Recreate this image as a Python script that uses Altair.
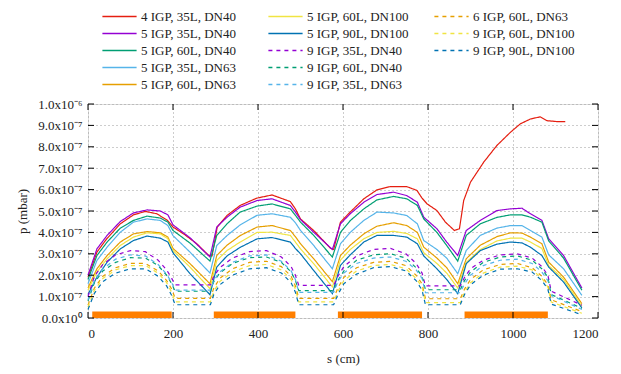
import altair as alt
import pandas as pd

FONT = "Liberation Serif"

# ---------------- data (pressure in units of 1e-7 mbar, s in cm) ----------------
S_RED = [0, 21, 44, 76, 107, 135, 162, 187, 200, 225, 256, 284, 292, 304, 327, 358, 397, 433, 476, 488,
         500, 531, 570, 578, 594, 617, 649, 680, 711, 750, 774, 786, 798, 821, 841, 862, 874, 884, 900, 931,
         962, 994, 1017, 1041, 1064, 1080, 1103, 1123]
P_RED = [1.9, 3.08, 3.7, 4.4, 4.82, 4.98, 4.87, 4.56, 4.25, 3.93, 3.47, 2.92, 2.9, 4.25, 4.79, 5.26, 5.6, 5.75, 5.44, 5.1,
         4.63, 4.09, 3.27, 3.2, 4.48, 4.95, 5.57, 5.99, 6.14, 6.14, 5.96, 5.6, 5.33, 5.02, 4.48, 4.09, 4.17, 5.49, 6.35, 7.28,
         8.06, 8.68, 9.07, 9.3, 9.4, 9.22, 9.18, 9.18]

S_SOLID = [0, 21, 45, 76, 107, 139, 170, 188, 200, 240, 287, 303, 327, 358, 398, 433, 476, 488, 500, 531,
           575, 594, 617, 649, 680, 719, 750, 775, 790, 821, 844, 870, 890, 923, 962, 994, 1021, 1041, 1068, 1084,
           1119, 1162]
P_5_35_40 = [2.0, 3.23, 3.86, 4.51, 4.91, 5.05, 5.0, 4.82, 4.35, 3.75, 2.85, 4.25, 4.71, 5.18, 5.49, 5.57, 5.26, 4.95, 4.6, 4.01,
             3.2, 4.4, 4.87, 5.41, 5.77, 5.88, 5.72, 5.41, 4.71, 4.17, 3.55, 2.92, 4.09, 4.56, 5.02, 5.10, 5.13, 4.87, 4.56, 3.7,
             2.92, 1.4]
P_5_60_40 = [1.8, 2.92, 3.55, 4.2, 4.56, 4.76, 4.67, 4.48, 4.09, 3.5, 2.66, 3.86, 4.4, 4.95, 5.23, 5.33, 5.1, 4.8, 4.48, 3.86,
             2.85, 4.0, 4.55, 5.1, 5.52, 5.68, 5.57, 5.26, 4.63, 4.0, 3.39, 2.66, 3.86, 4.4, 4.7, 4.82, 4.82, 4.71, 4.48, 3.6,
             2.8, 1.3]
P_5_35_63 = [1.6, 2.69, 3.31, 4.01, 4.48, 4.63, 4.56, 4.32, 3.85, 3.08, 2.1, 3.39, 3.85, 4.35, 4.8, 4.87, 4.71, 4.45, 4.09, 3.39,
             2.3, 3.47, 4.0, 4.56, 4.95, 4.91, 4.79, 4.4, 3.62, 3.2, 2.8, 2.07, 3.16, 3.86, 4.2, 4.32, 4.32, 4.09, 3.78, 2.95,
             2.3, 1.06]
P_5_60_63 = [1.4, 2.3, 2.92, 3.55, 3.93, 4.04, 3.98, 3.78, 3.25, 2.54, 1.6, 2.92, 3.4, 3.85, 4.25, 4.32, 4.09, 3.8, 3.47, 2.77,
             1.7, 2.92, 3.4, 3.93, 4.29, 4.45, 4.32, 4.0, 3.31, 2.8, 2.35, 1.6, 2.77, 3.4, 3.8, 3.98, 3.97, 3.78, 3.47, 2.61,
             1.91, 0.67]
P_5_60_100 = [1.3, 2.15, 2.77, 3.39, 3.78, 3.98, 3.93, 3.7, 3.15, 2.38, 1.37, 2.69, 3.15, 3.55, 4.0, 4.01, 3.86, 3.55, 3.23, 2.54,
              1.45, 2.7, 3.2, 3.7, 4.0, 4.05, 3.95, 3.7, 3.05, 2.55, 2.1, 1.4, 2.6, 3.2, 3.6, 3.73, 3.73, 3.55, 3.25, 2.45,
              1.8, 0.55]
P_5_90_100 = [1.1, 1.91, 2.61, 3.23, 3.62, 3.83, 3.73, 3.55, 3.05, 2.07, 1.09, 2.38, 2.9, 3.3, 3.7, 3.76, 3.55, 3.25, 3.0, 2.22,
              1.14, 2.46, 2.95, 3.55, 3.86, 3.86, 3.78, 3.47, 2.9, 2.3, 1.8, 1.14, 2.54, 3.15, 3.45, 3.55, 3.51, 3.31, 2.92, 2.38,
              1.68, 0.47]

S_DASH = [0, 15, 35, 65, 100, 135, 165, 185, 197, 205, 288, 296, 310, 340, 380, 420, 455, 478, 488, 496,
          578, 588, 602, 632, 672, 712, 748, 772, 786, 794, 876, 886, 900, 930, 970, 1010, 1045, 1068, 1082, 1090,
          1162]
P_9_35_40 = [1.0, 1.95, 2.5, 2.95, 3.15, 3.1, 2.7, 2.25, 1.85, 1.55, 1.55, 1.95, 2.35, 2.8, 3.1, 3.15, 2.85, 2.4, 2.0, 1.52,
             1.52, 1.95, 2.4, 2.9, 3.2, 3.25, 3.0, 2.55, 2.1, 1.5, 1.5, 1.9, 2.3, 2.7, 2.95, 3.0, 2.8, 2.4, 2.0, 1.25,
             0.6]
P_9_60_40 = [0.8, 1.65, 2.2, 2.6, 2.82, 2.8, 2.45, 2.0, 1.6, 1.25, 1.25, 1.7, 2.1, 2.55, 2.82, 2.85, 2.6, 2.15, 1.75, 1.28,
             1.28, 1.75, 2.2, 2.7, 2.95, 3.0, 2.8, 2.35, 1.95, 1.32, 1.32, 1.75, 2.15, 2.6, 2.85, 2.9, 2.7, 2.3, 1.9, 1.1,
             0.45]
P_9_35_63 = [0.85, 1.75, 2.3, 2.75, 2.95, 2.9, 2.5, 2.05, 1.65, 1.3, 1.3, 1.75, 2.15, 2.6, 2.9, 2.95, 2.65, 2.2, 1.8, 1.2,
             1.2, 1.7, 2.1, 2.55, 2.8, 2.85, 2.65, 2.25, 1.85, 1.18, 1.18, 1.6, 2.0, 2.45, 2.7, 2.75, 2.55, 2.15, 1.75, 1.05,
             0.4]
P_6_60_63 = [0.6, 1.4, 1.95, 2.35, 2.55, 2.55, 2.2, 1.75, 1.35, 0.92, 0.92, 1.4, 1.85, 2.3, 2.6, 2.65, 2.4, 1.95, 1.5, 0.92,
             0.92, 1.4, 1.9, 2.35, 2.6, 2.65, 2.45, 2.0, 1.6, 0.9, 0.9, 1.35, 1.8, 2.25, 2.5, 2.55, 2.35, 1.95, 1.55, 0.85,
             0.3]
P_9_60_100 = [0.5, 1.3, 1.85, 2.25, 2.45, 2.45, 2.1, 1.65, 1.2, 0.75, 0.75, 1.25, 1.7, 2.15, 2.45, 2.5, 2.25, 1.8, 1.35, 0.75,
              0.75, 1.25, 1.75, 2.2, 2.45, 2.5, 2.3, 1.85, 1.45, 0.72, 0.72, 1.2, 1.65, 2.1, 2.38, 2.42, 2.25, 1.85, 1.45, 0.75,
              0.22]
P_9_90_100 = [0.4, 1.15, 1.7, 2.1, 2.3, 2.3, 1.95, 1.5, 1.05, 0.62, 0.62, 1.1, 1.55, 2.0, 2.3, 2.35, 2.1, 1.65, 1.2, 0.62,
              0.62, 1.1, 1.6, 2.05, 2.35, 2.4, 2.2, 1.75, 1.3, 0.62, 0.62, 1.1, 1.55, 2.0, 2.28, 2.3, 2.15, 1.75, 1.35, 0.65,
              0.15]

# orange sections along the bottom
SEG_START = [10, 296, 588, 886]
SEG_END = [197, 488, 786, 1082]
SEG_LOW = [0.0, 0.0, 0.0, 0.0]
SEG_HIGH = [0.3, 0.3, 0.3, 0.3]

X_TICKS = [0, 200, 400, 600, 800, 1000, 1200]
Y_TICKS = [0, 1, 2, 3, 4, 5, 6, 7, 8, 9, 10]

# series: (name, s, p, colour, dash)
SERIES = [
    ("4 IGP, 35L, DN40", S_RED, P_RED, "#e51e10", [1, 0]),
    ("5 IGP, 35L, DN40", S_SOLID, P_5_35_40, "#9400d3", [1, 0]),
    ("5 IGP, 60L, DN40", S_SOLID, P_5_60_40, "#009e73", [1, 0]),
    ("5 IGP, 35L, DN63", S_SOLID, P_5_35_63, "#56b4e9", [1, 0]),
    ("5 IGP, 60L, DN63", S_SOLID, P_5_60_63, "#e69f00", [1, 0]),
    ("5 IGP, 60L, DN100", S_SOLID, P_5_60_100, "#f0e442", [1, 0]),
    ("5 IGP, 90L, DN100", S_SOLID, P_5_90_100, "#0072b2", [1, 0]),
    ("9 IGP, 35L, DN40", S_DASH, P_9_35_40, "#9400d3", [4, 4]),
    ("9 IGP, 60L, DN40", S_DASH, P_9_60_40, "#009e73", [4, 4]),
    ("9 IGP, 35L, DN63", S_DASH, P_9_35_63, "#56b4e9", [4, 4]),
    ("6 IGP, 60L, DN63", S_DASH, P_6_60_63, "#e69f00", [4, 4]),
    ("9 IGP, 60L, DN100", S_DASH, P_9_60_100, "#f0e442", [4, 4]),
    ("9 IGP, 90L, DN100", S_DASH, P_9_90_100, "#0072b2", [4, 4]),
]
GROUPS = [SERIES[0:5], SERIES[5:10], SERIES[10:13]]
LEGEND_X = [11, 177, 343]

W, H = 510, 214
x_scale = alt.Scale(domain=[0, 1200], nice=False, zero=False)
y_scale = alt.Scale(domain=[0, 10], nice=False, zero=False)

rows = []
for name, s, p, col, dash in SERIES:
    assert len(s) == len(p), name
    for i, (si, pi) in enumerate(zip(s, p)):
        rows.append({"series": name, "s": si, "p": pi, "order": i})
df = pd.DataFrame(rows)

seg_df = pd.DataFrame({"a": SEG_START, "b": SEG_END, "lo": SEG_LOW, "hi": SEG_HIGH})
xt_df = pd.DataFrame({"t": X_TICKS})
yt_df = pd.DataFrame({"t": Y_TICKS})

ylabel = ("datum.value == 10 ? '1.0x10\u207b\u2076' : (datum.value == 0 ? '0.0x10\u2070' : "
          "format(datum.value, '.1f') + 'x10\u207b\u2077')")

X_AXIS = alt.Axis(values=X_TICKS, format="d", grid=True, gridDash=[1, 3], gridColor="#9a9a9a",
                  gridWidth=1, tickSize=0, domain=False, labelPadding=9,
                  labelFont=FONT, labelFontSize=13, labelColor="#222",
                  titleFont=FONT, titleFontSize=13, titleFontWeight="normal",
                  titleColor="#222", titlePadding=12)
Y_AXIS = alt.Axis(values=Y_TICKS, grid=True, gridDash=[1, 3], gridColor="#9a9a9a",
                  gridWidth=1, tickSize=0, domain=False, labelPadding=6,
                  labelExpr=ylabel, labelFont=FONT, labelFontSize=13, labelColor="#222",
                  titleFont=FONT, titleFontSize=13, titleFontWeight="normal",
                  titleColor="#222", titlePadding=8)
XT = "s (cm)"
YT = "p (mbar)"


def xenc(field):
    return alt.X(field, scale=x_scale, axis=X_AXIS, title=XT)


def yenc(field):
    return alt.Y(field, scale=y_scale, axis=Y_AXIS, title=YT)


bars = alt.Chart(seg_df).mark_rect(color="#ff7f00").encode(
    x=xenc("a:Q"), x2="b:Q", y=yenc("lo:Q"), y2="hi:Q",
)

# legend key: a long horizontal stroke drawn as a custom path (scaled by sqrt(size)/2 = 3)
KEY_PATH = "M-5.7,0H5.7"

line_layers = []
for g, lx in zip(GROUPS, LEGEND_X):
    names = [t[0] for t in g]
    cols = [t[3] for t in g]
    dashes = [t[4] for t in g]
    leg = alt.Legend(orient="none", legendX=lx + 14, legendY=-94, title=None, direction="vertical",
                     symbolType=KEY_PATH, symbolSize=36, symbolStrokeWidth=1.5,
                     labelFont=FONT, labelFontSize=13, labelColor="#222", labelOffset=15,
                     labelLimit=300, rowPadding=3, padding=0)
    layer = alt.Chart(df).transform_filter(
        alt.FieldOneOfPredicate(field="series", oneOf=names)
    ).mark_line(strokeWidth=1.2).encode(
        x=xenc("s:Q"),
        y=yenc("p:Q"),
        order="order:Q",
        color=alt.Color("series:N", scale=alt.Scale(domain=names, range=cols), legend=leg),
        strokeDash=alt.StrokeDash("series:N", scale=alt.Scale(domain=names, range=dashes), legend=leg),
    )
    line_layers.append(layer)

tick_x_bottom = alt.Chart(xt_df).mark_rule(color="black", strokeWidth=1).encode(
    x=xenc("t:Q"), y=alt.value(H), y2=alt.value(H - 6))
tick_x_top = alt.Chart(xt_df).mark_rule(color="black", strokeWidth=1).encode(
    x=xenc("t:Q"), y=alt.value(0), y2=alt.value(6))
tick_y_left = alt.Chart(yt_df).mark_rule(color="black", strokeWidth=1).encode(
    y=yenc("t:Q"), x=alt.value(0), x2=alt.value(6))
tick_y_right = alt.Chart(yt_df).mark_rule(color="black", strokeWidth=1).encode(
    y=yenc("t:Q"), x=alt.value(W), x2=alt.value(W - 6))

chart = alt.layer(
    bars, *line_layers, tick_x_bottom, tick_x_top, tick_y_left, tick_y_right
).resolve_scale(
    color="independent", strokeDash="independent"
).properties(
    width=W, height=H,
    autosize=alt.AutoSizeParams(type="none"),
    padding={"left": 80, "top": 96, "right": 15, "bottom": 50},
).configure_view(
    stroke="black", strokeWidth=1.5
).configure(background="white")

chart.save("out.html", embed_options={"renderer": "svg", "actions": False})
